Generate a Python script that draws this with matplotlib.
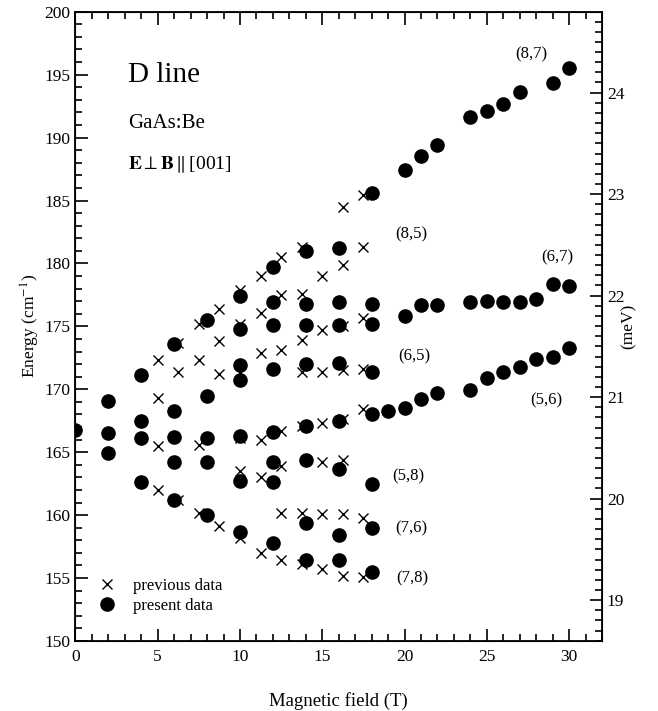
import numpy as np
import matplotlib
matplotlib.use('Agg')
import matplotlib.pyplot as plt
from matplotlib.ticker import MultipleLocator

plt.rcParams['font.family'] = ['Liberation Serif', 'DejaVu Serif']
plt.rcParams['mathtext.fontset'] = 'stix'

# present data (filled circles): field (T) and energy (cm^-1)
present_B = [0,
             2, 2, 2,
             4, 4, 4, 4,
             6, 6, 6, 6, 6,
             8, 8, 8, 8, 8,
             10, 10, 10, 10, 10, 10, 10,
             12, 12, 12, 12, 12, 12, 12, 12,
             14, 14, 14, 14, 14, 14, 14, 14,
             16, 16, 16, 16, 16, 16, 16, 16,
             18, 18, 18, 18, 18, 18, 18, 18,
             19,
             20, 20, 20,
             21, 21, 21,
             22, 22, 22,
             24, 24, 24,
             25, 25, 25,
             26, 26, 26,
             27, 27, 27,
             28, 28,
             29, 29, 29,
             30, 30, 30]
present_E = [166.8,
             169.1, 166.5, 164.9,
             171.1, 167.5, 166.1, 162.65,
             173.6, 168.3, 166.2, 164.2, 161.2,
             175.5, 169.5, 166.1, 164.2, 160.0,
             177.45, 174.8, 171.95, 170.7, 166.3, 162.7, 158.65,
             179.7, 176.9, 175.1, 171.6, 166.6, 164.2, 162.6, 157.8,
             181.0, 176.8, 175.1, 172.0, 167.1, 164.4, 159.4, 156.4,
             181.2, 176.9, 175.1, 172.1, 167.5, 163.7, 158.4, 156.4,
             185.6, 176.8, 175.2, 171.4, 168.0, 162.5, 159.0, 155.5,
             168.3,
             187.4, 175.85, 168.5,
             188.5, 176.7, 169.2,
             189.45, 176.7, 169.7,
             191.6, 176.9, 169.95,
             192.1, 177.05, 170.9,
             192.7, 176.9, 171.4,
             193.6, 176.9, 171.8,
             177.2, 172.4,
             194.3, 178.4, 172.6,
             195.5, 178.2, 173.3]

# previous data (crosses)
previous_B = [5, 5, 5, 5,
              6.25, 6.25, 6.25,
              7.5, 7.5, 7.5, 7.5,
              8.75, 8.75, 8.75, 8.75,
              10, 10, 10, 10, 10, 10,
              11.25, 11.25, 11.25, 11.25, 11.25, 11.25,
              12.5, 12.5, 12.5, 12.5, 12.5, 12.5, 12.5,
              13.75, 13.75, 13.75, 13.75, 13.75, 13.75, 13.75,
              15, 15, 15, 15, 15, 15, 15,
              16.25, 16.25, 16.25, 16.25, 16.25, 16.25, 16.25, 16.25,
              17.5, 17.5, 17.5, 17.5, 17.5, 17.5, 17.5]
previous_E = [172.3, 169.3, 165.5, 162.0,
              173.7, 171.4, 161.2,
              175.2, 172.3, 165.6, 160.2,
              176.4, 173.8, 171.2, 159.1,
              177.9, 175.2, 171.3, 166.1, 163.5, 158.2,
              179.0, 176.05, 172.9, 166.0, 163.0, 157.0,
              180.55, 177.5, 173.1, 166.7, 163.9, 160.2, 156.4,
              181.3, 177.6, 173.9, 171.4, 167.1, 160.2, 156.1,
              179.0, 174.7, 171.4, 167.3, 164.2, 160.1, 155.7,
              184.5, 179.9, 175.05, 171.5, 167.6, 164.4, 160.1, 155.2,
              185.45, 181.3, 175.65, 171.6, 168.4, 159.8, 155.1]

# transition labels and where they sit
label_text = ['(8,7)', '(8,5)', '(6,7)', '(6,5)', '(5,6)', '(5,8)', '(7,6)', '(7,8)']
label_B = [27.7, 20.4, 29.3, 20.6, 28.6, 20.2, 20.4, 20.5]
label_E = [196.6, 182.3, 180.45, 172.6, 169.1, 163.1, 158.95, 155.0]

CM_PER_MEV = 8.0655

fig = plt.figure(figsize=(6.58, 7.11), dpi=100)
ax = fig.add_axes([0.1147, 0.0985, 0.8002, 0.885])

ax.plot(previous_B, previous_E, 'x', color='black', markersize=7.5, mew=1.0,
        label='previous data', linestyle='none')
ax.plot(present_B, present_E, 'o', color='black', markersize=9.5,
        label='present data', linestyle='none')

ax.set_xlim(0, 32)
ax.set_ylim(150, 200)
ax.xaxis.set_major_locator(MultipleLocator(5))
ax.xaxis.set_minor_locator(MultipleLocator(1))
ax.yaxis.set_major_locator(MultipleLocator(5))
ax.yaxis.set_minor_locator(MultipleLocator(1))
ax.tick_params(which='both', direction='in', top=True, right=False, width=1.2,
               labelsize=12.5)
ax.tick_params(which='major', length=9)
ax.tick_params(which='minor', length=5)
ax.tick_params(axis='x', pad=6)
for s in ax.spines.values():
    s.set_linewidth(1.3)

ax.set_xlabel('Magnetic field (T)', fontsize=13.5, labelpad=19)
ax.set_ylabel('Energy (cm$^{-1}$)', fontsize=12.5, labelpad=2)

# right axis in meV
ax2 = ax.twinx()
ax2.set_ylim(150 / CM_PER_MEV, 200 / CM_PER_MEV)
ax2.yaxis.set_major_locator(MultipleLocator(1))
ax2.yaxis.set_minor_locator(MultipleLocator(0.1))
ax2.tick_params(which='both', direction='in', width=1.2, labelsize=12.5)
ax2.tick_params(which='major', length=9)
ax2.tick_params(which='minor', length=5)
ax2.set_ylabel('(meV)', fontsize=12.5, labelpad=-3)

# headings
ax.text(3.2, 194.45, 'D line', fontsize=21, va='baseline')
ax.text(3.2, 190.75, 'GaAs:Be', fontsize=15, va='baseline')
ax.text(3.2, 187.45, r'$\mathbf{E}\perp\mathbf{B}\parallel$[001]', fontsize=14,
        va='baseline')

for t, b, e in zip(label_text, label_B, label_E):
    ax.text(b, e, t, fontsize=12, ha='center', va='center')

ax.legend(loc='lower left', bbox_to_anchor=(0.015, 0.033), frameon=False,
          fontsize=12, handletextpad=0.6, labelspacing=0.2, borderaxespad=0)

fig.savefig('out.png', dpi=100)
